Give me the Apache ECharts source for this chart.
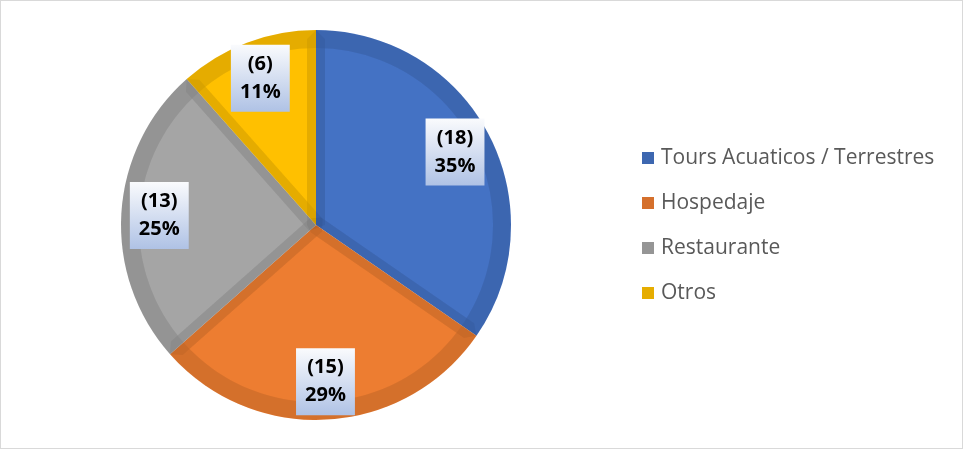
<!DOCTYPE html>
<html>
<head>
<meta charset="utf-8">
<script src="https://cdn.jsdelivr.net/npm/echarts@6/dist/echarts.min.js"></script>
<style>
  html, body { margin: 0; padding: 0; background: #fff; }
  #chart { position: absolute; left: 0; top: 0; width: 963px; height: 449px; }
  #frame { position: absolute; left: 0; top: 0; width: 963px; height: 449px; box-sizing: border-box; border: 1px solid #d9d9d9; pointer-events: none; }
</style>
</head>
<body>
<div id="chart"></div>
<div id="frame"></div>
<script>
const categories = ['Tours Acuaticos / Terrestres', 'Hospedaje', 'Restaurante', 'Otros']
const counts = [18, 15, 13, 6]
const fillColors = ['#4472C4', '#ED7D31', '#A5A5A5', '#FFC000']
const edgeColors = ['#3D67B0', '#D5702C', '#959595', '#E6AD00']

const chart = echarts.init(document.getElementById('chart'))

const center = [316, 225]
// darker rim: two thin translucent black strokes, so shared edges get ~10% shade
const rimShade = 'rgba(0,0,0,0.052)'

const labelBg = new echarts.graphic.LinearGradient(0, 0, 0, 1, [
  { offset: 0, color: '#FAFBFD' },
  { offset: 1, color: '#AFC2E5' }
])

const option = {
  animation: false,
  legend: {
    orient: 'vertical',
    left: 637,
    top: 142,
    itemWidth: 12,
    itemHeight: 12,
    itemGap: 23,
    selectedMode: false,
    textStyle: {
      fontFamily: 'Open Sans',
      fontSize: 21,
      lineHeight: 22,
      color: '#595959',
      padding: [0, 0, 0, 2]
    },
    data: categories.map((name, i) => ({
      name: name,
      icon: 'rect',
      itemStyle: { color: edgeColors[i], borderWidth: 0 }
    }))
  },
  series: [
    {
      name: 'base',
      type: 'pie',
      center: center,
      radius: [0, 195],
      startAngle: 90,
      clockwise: true,
      silent: true,
      label: { show: false },
      labelLine: { show: false },
      itemStyle: { borderWidth: 0 },
      data: categories.map((name, i) => ({
        name: name,
        value: counts[i],
        itemStyle: { color: fillColors[i] }
      }))
    },
    {
      name: 'edges',
      type: 'pie',
      center: center,
      radius: [0, 186],
      startAngle: 90,
      clockwise: true,
      silent: true,
      label: { show: false },
      labelLine: { show: false },
      itemStyle: {
        color: 'rgba(0,0,0,0)',
        borderColor: rimShade,
        borderWidth: 18,
        borderJoin: 'bevel'
      },
      data: categories.map((name, i) => ({ name: name, value: counts[i] }))
    },
    {
      name: 'rim',
      type: 'pie',
      center: center,
      radius: [0, 186],
      silent: true,
      label: { show: false },
      labelLine: { show: false },
      itemStyle: {
        color: 'rgba(0,0,0,0)',
        borderColor: rimShade,
        borderWidth: 18
      },
      data: [{ name: 'rim', value: 1 }]
    },
    {
      name: 'labels',
      type: 'pie',
      center: center,
      radius: [0, 308],
      startAngle: 90,
      clockwise: true,
      silent: true,
      percentPrecision: 0,
      itemStyle: { color: 'rgba(0,0,0,0)', borderWidth: 0 },
      labelLine: { show: false },
      label: {
        show: true,
        position: 'inside',
        formatter: '({c})\n{d}%',
        fontFamily: 'Open Sans',
        fontWeight: 'bold',
        fontSize: 20,
        lineHeight: 28,
        color: '#000',
        backgroundColor: labelBg,
        padding: [6, 9, 5, 9]
      },
      data: categories.map((name, i) => ({ name: name, value: counts[i] }))
    }
  ]
}

chart.setOption(option)
window.addEventListener('resize', chart.resize)
</script>
</body>
</html>
